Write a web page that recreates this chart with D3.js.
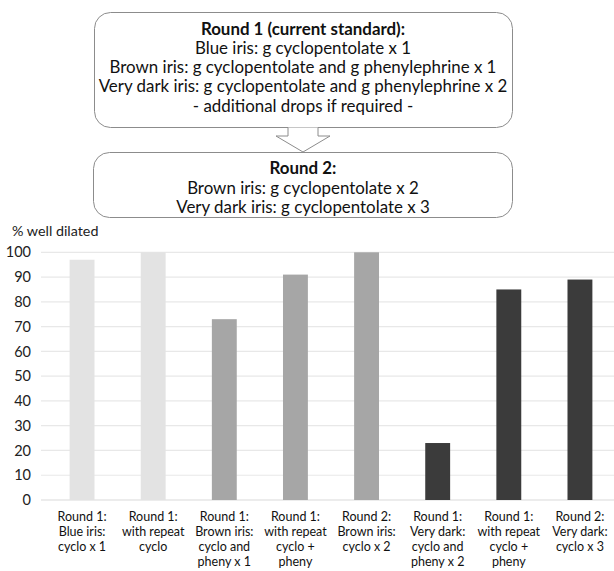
<!DOCTYPE html>
<html><head><meta charset="utf-8">
<script src="https://cdn.jsdelivr.net/npm/d3@7"></script>
<style>body{margin:0;background:#fff;} svg{display:block;font-family:Lato,"Open Sans",sans-serif;}</style>
</head><body>
<svg id="c" width="614" height="571"></svg>
<script>
const categories = [
  ["Round 1:","Blue iris:","cyclo x 1"],
  ["Round 1:","with repeat","cyclo"],
  ["Round 1:","Brown iris:","cyclo and","pheny x 1"],
  ["Round 1:","with repeat","cyclo +","pheny"],
  ["Round 2:","Brown iris:","cyclo x 2"],
  ["Round 1:","Very dark:","cyclo and","pheny x 2"],
  ["Round 1:","with repeat","cyclo +","pheny"],
  ["Round 2:","Very dark:","cyclo x 3"]
];
const values = [97, 100, 73, 91, 100, 23, 85, 89];
const groups = ["blue","blue","brown","brown","brown","dark","dark","dark"];
const yTicks = [0,10,20,30,40,50,60,70,80,90,100];
const box1Lines = ["Round 1 (current standard):","Blue iris: g cyclopentolate x 1","Brown iris: g cyclopentolate and g phenylephrine x 1","Very dark iris: g cyclopentolate and g phenylephrine x 2","- additional drops if required -"];
const box2Lines = ["Round 2:","Brown iris: g cyclopentolate x 2","Very dark iris: g cyclopentolate x 3"];
const yTitle = "% well dilated";

const svg = d3.select("#c");
const color = d3.scaleOrdinal().domain(["blue","brown","dark"]).range(["#e3e3e3","#a6a6a6","#3b3b3b"]);
const x = d3.scaleBand().domain(d3.range(values.length)).range([46.5, 615.5]).paddingInner(0.65).paddingOuter(0.325);
const y = d3.scaleLinear().domain([0,100]).range([500, 252.3]);

// gridlines
svg.append("g").selectAll("line").data(yTicks).join("line")
  .attr("x1", 41).attr("x2", 614).attr("y1", d=>y(d)).attr("y2", d=>y(d))
  .attr("stroke", d=> d===0 ? "#d9d9d9" : "#e8e8e8").attr("stroke-width", 1.2);

// y axis labels
const yAxis = d3.axisLeft(y).tickValues(yTicks).tickSize(0).tickPadding(0);
const ga = svg.append("g").attr("transform","translate(31,0)").call(yAxis);
ga.select(".domain").remove();
ga.selectAll("text").attr("font-size",14.5).attr("fill","#222").attr("font-family","Lato,sans-serif");

svg.append("text").attr("x",12).attr("y",236).attr("font-size",14.3).attr("fill","#222").text(yTitle);

// bars
svg.append("g").selectAll("rect").data(values).join("rect")
  .attr("x",(d,i)=>x(i)).attr("width",x.bandwidth())
  .attr("y",d=>y(d)).attr("height",d=>y(0)-y(d))
  .attr("fill",(d,i)=>color(groups[i]));

// x labels
const xl = svg.append("g").selectAll("text").data(categories).join("text")
  .attr("x",(d,i)=>x(i)+x.bandwidth()/2).attr("y",520.5)
  .attr("text-anchor","middle").attr("font-size",12.5).attr("fill","#111");
xl.selectAll("tspan").data(d=>d).join("tspan")
  .attr("x",function(){return this.parentNode.getAttribute("x");})
  .attr("dy",(d,i)=> i===0?0:15.3).text(d=>d);

// boxes
function box(x0,y0,x1,y1){
  svg.append("rect").attr("x",x0).attr("y",y0).attr("width",x1-x0).attr("height",y1-y0)
    .attr("rx",16).attr("ry",16).attr("fill","#fff").attr("stroke","#8c8c8c").attr("stroke-width",1);
}
box(94.5,12.5,512.5,127.5);
box(93.5,152.5,512.5,217.5);

// arrow
svg.append("path").attr("d","M288,127.5 L288,136 L276,136 L303,152 L330,136 L318,136 L318,127.5")
  .attr("fill","#fff").attr("stroke","#8c8c8c").attr("stroke-width",1);

function lines(arr, y0, dy){
  svg.append("g").selectAll("text").data(arr).join("text")
    .attr("x",303).attr("y",(d,i)=>y0+i*dy).attr("text-anchor","middle")
    .attr("font-size",16.9).attr("fill","#111")
    .attr("font-weight",(d,i)=>i===0?"bold":"normal").text(d=>d);
}
lines(box1Lines, 34.5, 19.3);
lines(box2Lines, 174, 19.5);
</script>
</body></html>
